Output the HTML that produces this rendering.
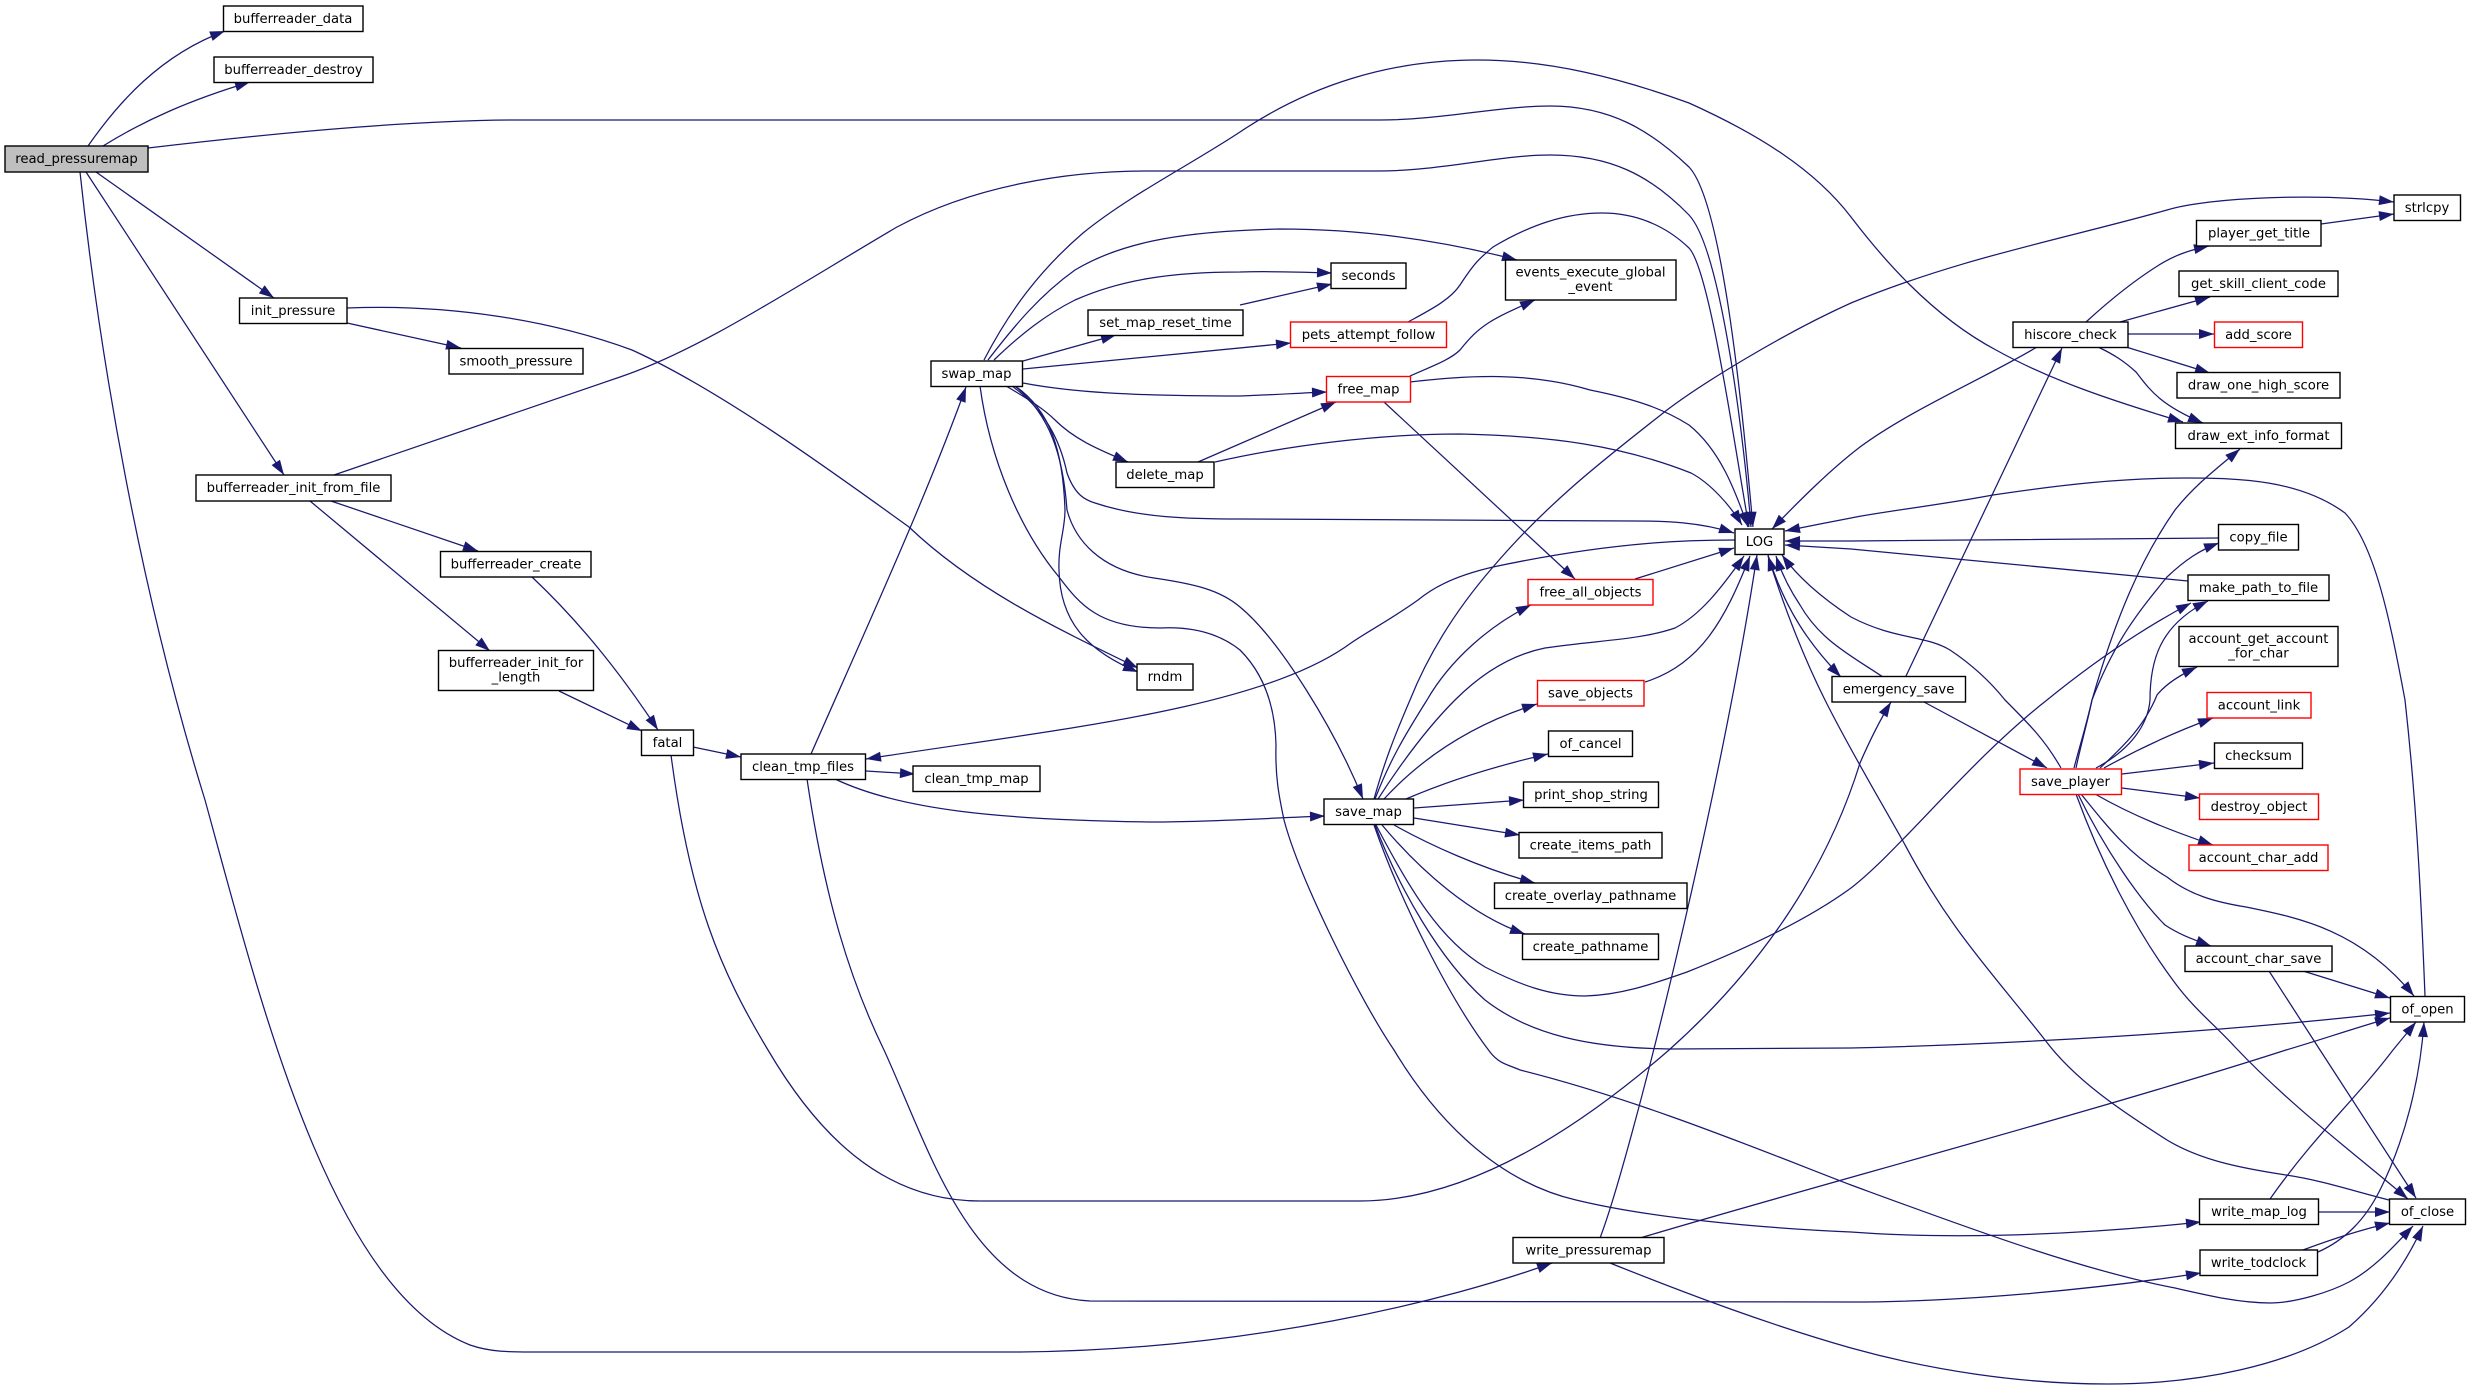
<!DOCTYPE html>
<html><head><meta charset="utf-8"><style>html,body{margin:0;padding:0;background:#fff}svg{display:block}</style></head><body>
<svg xmlns="http://www.w3.org/2000/svg" width="2471" height="1390" viewBox="0 0 2471 1390">
<defs><marker id="a" markerUnits="userSpaceOnUse" markerWidth="16" markerHeight="12" refX="15" refY="5" orient="auto" overflow="visible"><path d="M0 0L15 5L0 10Z" fill="#191970" stroke="none"/></marker></defs>
<rect width="2471" height="1390" fill="#fff"/>
<g fill="none" stroke="#191970" stroke-width="1.25" marker-end="url(#a)">
<path d="M88 146C118 103 160 55 225 31"/>
<path d="M103 146C145 120 190 100 250 82"/>
<path d="M148 148C300 130 430 120 520 120C800 120 1200 120 1380 120C1440 120 1500 106 1550 106C1610 106 1650 130 1689 167C1725 205 1745 440 1753 527"/>
<path d="M96 172L274 298"/>
<path d="M86 172L284 475"/>
<path d="M80 172C100 360 140 590 205 800C260 1000 330 1290 470 1345C490 1352 510 1352 530 1352L1020 1352C1250 1350 1450 1300 1552 1263"/>
<path d="M347 308C450 304 550 320 632 350C720 390 830 470 909 527C975 590 1060 630 1138 668"/>
<path d="M347 323L461 348"/>
<path d="M334 475L620 377C700 350 790 290 897 227C975 185 1070 171 1146 171L1378 171C1440 171 1500 155 1550 155C1610 155 1650 175 1689 215C1722 250 1745 450 1751 527"/>
<path d="M331 501L478 551"/>
<path d="M310 501L490 651"/>
<path d="M532 577C585 627 625 680 658 730"/>
<path d="M559 691L642 731"/>
<path d="M693 747L741 757"/>
<path d="M671 755C690 900 720 970 768 1050C815 1130 880 1201 980 1201L1360 1201C1480 1201 1600 1110 1669 1050C1770 960 1830 860 1860 763C1870 740 1880 720 1891 702"/>
<path d="M811 754C870 620 925 500 966 387"/>
<path d="M866 771L915 774"/>
<path d="M835 779C900 810 1000 820 1154 822C1210 822 1270 818 1325 816"/>
<path d="M807 779C825 900 850 980 884 1050C930 1150 970 1295 1090 1301L1851 1302C1960 1302 2090 1290 2201 1273"/>
<path d="M984 360C1010 310 1040 270 1083 233C1130 195 1190 165 1240 132C1310 85 1390 60 1477 60C1550 60 1620 78 1689 103C1760 135 1815 170 1851 217C1880 255 1930 315 1996 350C2050 380 2110 400 2183 422"/>
<path d="M988 360C1015 325 1040 295 1075 270C1125 240 1190 231 1280 229C1360 229 1440 240 1517 260"/>
<path d="M994 360C1020 335 1045 315 1075 300C1120 280 1170 272 1240 272C1270 271 1300 272 1332 273"/>
<path d="M1023 361L1116 335"/>
<path d="M1023 369L1291 343"/>
<path d="M1023 383C1070 392 1130 396 1240 396C1270 395 1300 393 1327 392"/>
<path d="M1006 386C1030 400 1045 410 1055 420C1075 440 1100 450 1128 462"/>
<path d="M1012 386C1045 410 1060 440 1067 473C1075 495 1085 500 1095 503C1140 518 1190 519 1240 519L1635 521C1665 521 1700 522 1734 533"/>
<path d="M1015 386C1050 415 1063 455 1067 510C1075 540 1100 570 1154 578C1195 584 1220 590 1240 607C1280 640 1335 730 1363 799"/>
<path d="M1015 386C1050 410 1063 450 1065 510C1065 530 1058 545 1059 570C1060 620 1085 650 1138 672"/>
<path d="M980 386C990 460 1020 530 1059 577C1080 605 1100 628 1160 628C1200 626 1225 638 1240 650C1260 670 1275 700 1276 745C1275 780 1280 800 1284 820C1300 880 1360 1000 1394 1050C1430 1110 1490 1180 1576 1200C1650 1218 1760 1228 1851 1232C1930 1238 2050 1238 2201 1222"/>
<path d="M1240 305L1332 284"/>
<path d="M1408 322C1430 310 1450 300 1460 285C1475 262 1480 258 1493 247C1530 225 1565 213 1602 213C1635 213 1665 225 1689 248C1710 270 1735 450 1749 527"/>
<path d="M1410 376C1430 367 1450 360 1460 350C1480 325 1490 320 1535 300"/>
<path d="M1410 382C1470 375 1530 372 1590 390C1640 400 1665 410 1689 425C1720 450 1735 490 1748 527"/>
<path d="M1384 402L1575 579"/>
<path d="M1198 462L1336 402"/>
<path d="M1215 462C1290 445 1380 434 1460 434C1550 436 1620 445 1691 473C1710 483 1730 505 1742 525"/>
<path d="M1635 579L1734 548"/>
<path d="M1735 540C1700 540 1620 540 1493 567C1450 577 1430 590 1418 600C1390 620 1370 630 1351 643C1260 710 1050 730 866 759"/>
<path d="M1374 799C1385 760 1395 735 1410 700C1430 650 1460 605 1493 567C1550 500 1610 455 1667 410C1700 385 1780 335 1851 303C1960 258 2060 240 2167 210C2210 197 2320 193 2394 202"/>
<path d="M1375 799C1390 760 1405 735 1427 700C1450 660 1490 625 1531 605"/>
<path d="M1378 799C1400 765 1425 730 1455 700C1480 675 1510 655 1545 648C1600 640 1640 640 1675 628C1700 615 1720 590 1744 556"/>
<path d="M1384 799C1420 760 1470 725 1537 704"/>
<path d="M1645 682C1700 665 1725 620 1750 556"/>
<path d="M1406 799C1450 780 1500 765 1548 754"/>
<path d="M1414 808L1524 800"/>
<path d="M1414 818L1520 835"/>
<path d="M1394 825C1430 845 1480 868 1535 883"/>
<path d="M1382 825C1420 870 1470 915 1525 934"/>
<path d="M1376 825C1410 890 1440 940 1485 967C1520 985 1550 996 1585 996C1620 995 1650 985 1687 972C1750 947 1810 918 1851 888C1900 850 1970 760 2047 700C2090 665 2140 630 2191 603"/>
<path d="M1375 825C1400 890 1440 960 1485 1000C1530 1035 1590 1048 1670 1049L1851 1048C2020 1044 2220 1032 2390 1013"/>
<path d="M1374 825C1400 900 1450 1000 1490 1052C1500 1065 1510 1065 1520 1070C1640 1100 1760 1150 1851 1185C1960 1225 2080 1270 2175 1288C2210 1296 2240 1303 2270 1303C2295 1303 2330 1292 2349 1282C2375 1268 2395 1245 2413 1226"/>
<path d="M2389 1200C2350 1190 2320 1180 2286 1175C2240 1168 2200 1160 2167 1140C2120 1110 2075 1080 2045 1040C1990 970 1950 930 1904 843C1880 800 1850 750 1825 700C1805 660 1785 610 1768 556"/>
<path d="M1883 677C1850 655 1820 640 1800 605C1790 590 1782 575 1776 556"/>
<path d="M2061 768C2045 740 2030 725 2005 700C1985 675 1965 660 1950 650C1925 635 1895 640 1851 617C1825 600 1800 580 1782 555"/>
<path d="M1768 555C1785 610 1810 645 1841 677"/>
<path d="M1906 676L2062 348"/>
<path d="M1924 702L2047 768"/>
<path d="M2037 347C1985 378 1910 410 1860 447C1830 470 1800 500 1772 529"/>
<path d="M2086 322C2110 300 2135 280 2159 265C2175 255 2190 250 2209 246"/>
<path d="M2120 322L2210 297"/>
<path d="M2128 334L2214 334"/>
<path d="M2126 347L2210 373"/>
<path d="M2098 347C2115 355 2125 362 2136 372C2150 390 2160 405 2203 423"/>
<path d="M2321 224L2394 214"/>
<path d="M2074 768C2080 745 2085 730 2092 700C2115 620 2140 560 2175 510C2195 485 2215 470 2240 449"/>
<path d="M2076 768C2082 740 2088 720 2092 700C2115 640 2140 610 2167 577C2185 560 2200 550 2219 543"/>
<path d="M2096 768C2130 750 2148 725 2150 700C2150 660 2160 625 2208 601"/>
<path d="M2100 768C2125 745 2145 725 2157 695C2165 685 2180 675 2197 667"/>
<path d="M2104 768C2140 748 2175 732 2213 718"/>
<path d="M2122 774L2214 763"/>
<path d="M2122 788L2200 798"/>
<path d="M2095 794C2135 817 2175 832 2213 845"/>
<path d="M2081 794C2110 830 2130 855 2167 877C2190 895 2215 902 2246 907C2300 918 2360 930 2414 996"/>
<path d="M2078 794C2105 850 2140 900 2165 925C2180 935 2195 940 2211 946"/>
<path d="M2076 794C2100 860 2135 930 2175 983C2195 1010 2215 1025 2235 1047C2290 1105 2350 1150 2408 1199"/>
<path d="M2188 581L1851 549L1785 545"/>
<path d="M2219 538L1851 541L1785 541"/>
<path d="M2425 996C2420 870 2415 790 2405 700C2390 620 2375 545 2345 513C2300 480 2240 478 2187 478C2120 478 2060 485 1993 495C1940 505 1880 512 1851 518C1830 522 1805 527 1785 531"/>
<path d="M2303 971L2390 998"/>
<path d="M2269 971L2320 1050L2416 1198"/>
<path d="M2318 1212L2390 1212"/>
<path d="M2270 1199C2315 1135 2355 1100 2393 1050L2416 1022"/>
<path d="M2303 1250C2335 1238 2360 1230 2390 1223"/>
<path d="M2318 1252C2345 1240 2365 1220 2380 1190C2405 1140 2420 1080 2424 1022"/>
<path d="M1640 1238C1800 1190 2100 1110 2286 1050C2320 1040 2355 1028 2390 1018"/>
<path d="M1610 1263C1690 1295 1770 1325 1851 1348C1930 1370 2020 1384 2108 1384C2200 1384 2290 1365 2349 1327C2380 1300 2405 1265 2423 1226"/>
<path d="M1600 1238C1630 1160 1720 800 1757 555"/>
</g>
<g stroke="#000" stroke-width="1.4" fill="#fff">
<rect x="5" y="146" width="143" height="26" fill="#bfbfbf"/>
<rect x="223.5" y="6" width="139.5" height="25.5"/>
<rect x="214" y="57" width="159" height="25.5"/>
<rect x="239.5" y="298" width="107.5" height="25.5"/>
<rect x="449" y="348.5" width="134" height="25.5"/>
<rect x="196" y="475" width="195" height="26"/>
<rect x="440.5" y="551.5" width="150.5" height="25.5"/>
<rect x="438.5" y="650.5" width="155" height="40"/>
<rect x="641.5" y="730" width="52" height="25.5"/>
<rect x="741" y="754" width="124.5" height="25.5"/>
<rect x="913" y="766" width="127" height="25.5"/>
<rect x="931" y="361" width="91.5" height="25.5"/>
<rect x="1116" y="462" width="98" height="25.5"/>
<rect x="1137" y="664" width="56" height="26"/>
<rect x="1088" y="310" width="155" height="25.5"/>
<rect x="1331" y="263" width="75" height="25.5"/>
<rect x="1505.5" y="260" width="170.5" height="40"/>
<rect x="1735" y="529" width="49" height="25.5"/>
<rect x="1548.5" y="731" width="84" height="25.5"/>
<rect x="1523.5" y="782" width="135" height="25.5"/>
<rect x="1519" y="832.5" width="143" height="25.5"/>
<rect x="1494.5" y="883" width="192.5" height="25.5"/>
<rect x="1522.5" y="934" width="136" height="25.5"/>
<rect x="1324" y="799" width="89.5" height="25.5"/>
<rect x="1513" y="1237.5" width="151" height="25.5"/>
<rect x="1832" y="676.5" width="133.5" height="25.5"/>
<rect x="2394" y="195" width="66.5" height="25.5"/>
<rect x="2196.5" y="220.5" width="124.5" height="25.5"/>
<rect x="2179" y="271" width="159" height="25.5"/>
<rect x="2013" y="322" width="115" height="25.5"/>
<rect x="2177" y="372.5" width="163" height="25.5"/>
<rect x="2175.5" y="423" width="166" height="25.5"/>
<rect x="2218.5" y="524.5" width="80" height="25.5"/>
<rect x="2188" y="575" width="141" height="25.5"/>
<rect x="2179" y="626.5" width="159" height="40"/>
<rect x="2214.5" y="743" width="88" height="25.5"/>
<rect x="2185" y="946" width="147" height="25.5"/>
<rect x="2390.5" y="996.5" width="74" height="25.5"/>
<rect x="2199.5" y="1199" width="119" height="25.5"/>
<rect x="2389.5" y="1199" width="76" height="25.5"/>
<rect x="2200" y="1250" width="117.5" height="25.5"/>
</g>
<g stroke="#f00" stroke-width="1.4" fill="#fff">
<rect x="1290.5" y="322" width="156" height="25.5"/>
<rect x="1326.5" y="376.5" width="84" height="25.5"/>
<rect x="1528" y="579.5" width="125" height="25.5"/>
<rect x="1537.5" y="680.5" width="106.5" height="25.5"/>
<rect x="2214.5" y="322" width="88" height="25.5"/>
<rect x="2207" y="692.5" width="104" height="25.5"/>
<rect x="2020" y="769" width="101.5" height="25.5"/>
<rect x="2199.5" y="794" width="119" height="25.5"/>
<rect x="2189" y="845" width="139" height="25.5"/>
</g>
<g font-family="'DejaVu Sans',sans-serif" font-size="13.2" fill="#000" text-anchor="middle">
<text x="76.5" y="163">read_pressuremap</text>
<text x="293" y="23">bufferreader_data</text>
<text x="293.5" y="74">bufferreader_destroy</text>
<text x="293" y="315">init_pressure</text>
<text x="516" y="365.5">smooth_pressure</text>
<text x="293.5" y="492">bufferreader_init_from_file</text>
<text x="516" y="568.5">bufferreader_create</text>
<text x="516" y="667">bufferreader_init_for</text>
<text x="516" y="681.5">_length</text>
<text x="667.5" y="747">fatal</text>
<text x="803" y="771">clean_tmp_files</text>
<text x="976.5" y="783">clean_tmp_map</text>
<text x="976.5" y="378">swap_map</text>
<text x="1165" y="479">delete_map</text>
<text x="1165" y="681">rndm</text>
<text x="1165.5" y="327">set_map_reset_time</text>
<text x="1368.5" y="280">seconds</text>
<text x="1368.5" y="339">pets_attempt_follow</text>
<text x="1368.5" y="393.5">free_map</text>
<text x="1590.5" y="276.5">events_execute_global</text>
<text x="1590.5" y="291">_event</text>
<text x="1759.5" y="546">LOG</text>
<text x="1590.5" y="596.5">free_all_objects</text>
<text x="1590.5" y="697.5">save_objects</text>
<text x="1590.5" y="748">of_cancel</text>
<text x="1591" y="799">print_shop_string</text>
<text x="1590.5" y="849.5">create_items_path</text>
<text x="1590.5" y="900">create_overlay_pathname</text>
<text x="1590.5" y="951">create_pathname</text>
<text x="1368.5" y="816">save_map</text>
<text x="1588.5" y="1254.5">write_pressuremap</text>
<text x="1898.5" y="693.5">emergency_save</text>
<text x="2427" y="212">strlcpy</text>
<text x="2259" y="237.5">player_get_title</text>
<text x="2258.5" y="288">get_skill_client_code</text>
<text x="2070.5" y="339">hiscore_check</text>
<text x="2258.5" y="339">add_score</text>
<text x="2258.5" y="389.5">draw_one_high_score</text>
<text x="2258.5" y="440">draw_ext_info_format</text>
<text x="2258.5" y="541.5">copy_file</text>
<text x="2258.5" y="592">make_path_to_file</text>
<text x="2258.5" y="643">account_get_account</text>
<text x="2258.5" y="657.5">_for_char</text>
<text x="2259" y="709.5">account_link</text>
<text x="2258.5" y="760">checksum</text>
<text x="2070.5" y="786">save_player</text>
<text x="2259" y="811">destroy_object</text>
<text x="2258.5" y="862">account_char_add</text>
<text x="2258.5" y="963">account_char_save</text>
<text x="2427.5" y="1013.5">of_open</text>
<text x="2259" y="1216">write_map_log</text>
<text x="2427.5" y="1216">of_close</text>
<text x="2258.5" y="1267">write_todclock</text>
</g>
</svg>
</body></html>
